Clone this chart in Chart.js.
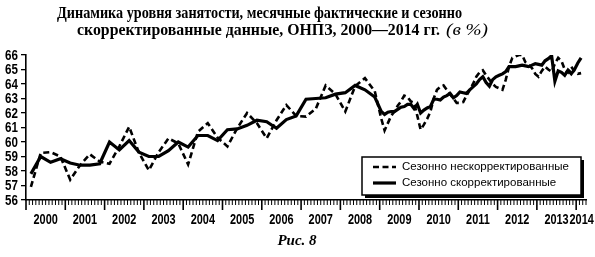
<!DOCTYPE html>
<html>
<head>
<meta charset="utf-8">
<script src="https://cdn.jsdelivr.net/npm/chart.js@4.4.1/dist/chart.umd.min.js"></script>
<style>
  html, body { margin: 0; padding: 0; background: #fff; }
  #wrap { width: 595px; height: 257px; }
</style>
</head>
<body>
<div id="wrap"><canvas id="employmentChart" width="595" height="257"></canvas></div>
<script>
// year labels under the x axis
const yearLabels = ["2000", "2001", "2002", "2003", "2004", "2005", "2006", "2007",
                    "2008", "2009", "2010", "2011", "2012", "2013", "2014"];

// 2000-2008: survey months (Feb, May, Aug, Nov), from 2009 monthly
const quarterYears = [2000, 2001, 2002, 2003, 2004, 2005, 2006, 2007, 2008];
const quarterMonths = [2, 5, 8, 11];
const monthlyFrom = 2009;

const nsaQuarterly = [
  56.9, 59.25, 59.3, 59.0,
  57.4, 58.4, 59.15, 58.65,
  58.5, 59.7, 61.05, 59.25,
  58.05, 59.3, 60.25, 59.9,
  58.45, 60.7, 61.3, 60.3,
  59.7, 60.95, 62.0, 61.3,
  60.25, 61.5, 62.55, 61.8,
  61.75, 62.3, 63.9, 63.3,
  62.1, 63.85, 64.4, 63.5
];
const saQuarterly = [
  57.8, 59.0, 58.6, 58.85,
  58.55, 58.4, 58.4, 58.5,
  60.0, 59.45, 60.1, 59.3,
  59.0, 59.0, 59.4, 60.0,
  59.65, 60.45, 60.45, 60.1,
  60.85, 60.9, 61.15, 61.5,
  61.4, 60.95, 61.55, 61.8,
  62.95, 63.0, 63.05, 63.3,
  63.4, 63.9, 63.6, 63.1
];
const nsaMonthly = [
  61.6, 60.8, 61.3, 61.8, 62.1, 62.5, 62.8, 63.2, 63.1, 62.8, 62.7, 61.8,
  60.85, 61.2, 61.6, 62.1, 63.0, 63.6, 63.8, 63.9, 63.6, 63.3, 63.0, 62.7,
  62.7, 62.75, 63.2, 63.6, 64.0, 64.5, 64.8, 64.95, 64.6, 64.3, 64.0, 63.8,
  63.7, 63.6, 64.3, 65.2, 65.8, 65.9, 66.0, 66.0, 65.5, 65.3, 65.1, 64.7,
  64.5, 64.9, 65.2, 65.0, 64.85, 65.4, 65.8, 65.6, 65.0, 64.8, 65.2, 64.85,
  64.7, 64.75
];
const saMonthly = [
  62.1, 61.9, 62.05, 62.1, 62.1, 62.25, 62.4, 62.45, 62.6, 62.6, 62.3, 62.6,
  62.0, 62.2, 62.35, 62.45, 62.95, 62.95, 62.9, 63.1, 63.2, 63.35, 63.05, 63.2,
  63.45, 63.4, 63.35, 63.6, 63.8, 64.0, 64.3, 64.5, 64.1, 63.85, 64.3, 64.5,
  64.6, 64.7, 64.85, 65.2, 65.2, 65.2, 65.25, 65.3, 65.25, 65.2, 65.3, 65.4,
  65.35, 65.3, 65.6, 65.75, 65.95, 64.2, 64.9, 64.8, 64.6, 64.95, 64.7, 65.0,
  65.45, 65.8
];

const seriesLabels = ["Сезонно нескорректированные", "Сезонно скорректированные"];

function monthX(year, month) {
  return year + (month - 0.5) / 12;
}

const dates = [];
quarterYears.forEach(y => quarterMonths.forEach(m => dates.push(monthX(y, m))));
for (let i = 0; i < nsaMonthly.length; i++) {
  dates.push(monthX(monthlyFrom + Math.floor(i / 12), (i % 12) + 1));
}
const toPoints = vals => vals.map((v, i) => ({ x: dates[i], y: v }));

// draw text squeezed horizontally (narrow bold look of the original)
function narrowText(ctx, text, x, y, squeeze, align) {
  const w = ctx.measureText(text).width * squeeze;
  const x0 = align === "right" ? x - w : align === "center" ? x - w / 2 : x;
  ctx.save();
  ctx.translate(x0, y);
  ctx.scale(squeeze, 1);
  ctx.textAlign = "left";
  ctx.fillText(text, 0, 0);
  ctx.restore();
}

// small tick marks under the x axis (months and years) and the axis labels
const axisExtras = {
  id: "axisExtras",
  afterDraw(chart) {
    const sx = chart.scales.x;
    const sy = chart.scales.y;
    const ctx = chart.ctx;
    const area = chart.chartArea;
    ctx.save();
    ctx.strokeStyle = "#000";
    for (let k = 0; ; k++) {
      const v = sx.min + k / 12;
      if (v > sx.max + 1e-6) break;
      const px = sx.getPixelForValue(v);
      const major = k % 12 === 0;
      ctx.lineWidth = major ? 1.6 : 1;
      ctx.beginPath();
      ctx.moveTo(px, area.bottom);
      ctx.lineTo(px, area.bottom + (major ? 10 : 5));
      ctx.stroke();
    }
    ctx.fillStyle = "#000";
    ctx.textBaseline = "middle";
    ctx.font = 'bold 14px "Liberation Sans", Arial, sans-serif';
    sx.ticks.forEach((t, i) => {
      narrowText(ctx, yearLabels[i], sx.getPixelForValue(t.value), area.bottom + 20, 0.78, "center");
    });
    ctx.font = 'bold 14.5px "Liberation Sans", Arial, sans-serif';
    sy.ticks.forEach(t => {
      narrowText(ctx, String(t.value), area.left - 8, sy.getPixelForValue(t.value) + 0.5, 0.8, "right");
    });
    ctx.restore();
  }
};

// framed legend with a shadow, sitting inside the plot
const boxLegend = {
  id: "boxLegend",
  afterDraw(chart) {
    const ctx = chart.ctx;
    const left = 362, top = 157, w = 219, h = 38;
    ctx.save();
    ctx.fillStyle = "#000";
    ctx.fillRect(left + 3, top + 3, w, h);
    ctx.fillStyle = "#fff";
    ctx.fillRect(left, top, w, h);
    ctx.lineWidth = 1.5;
    ctx.strokeStyle = "#000";
    ctx.strokeRect(left, top, w, h);
    chart.data.datasets.forEach((ds, i) => {
      const cy = top + 10 + i * 16;
      ctx.lineWidth = ds.borderWidth;
      ctx.setLineDash(ds.borderDash || []);
      ctx.beginPath();
      ctx.moveTo(left + 11, cy);
      ctx.lineTo(left + 34, cy);
      ctx.stroke();
      ctx.setLineDash([]);
      ctx.fillStyle = "#000";
      ctx.font = '11.5px "Liberation Sans", Arial, sans-serif';
      ctx.textBaseline = "middle";
      ctx.fillText(ds.label, left + 40, cy);
    });
    ctx.restore();
  }
};

function fitText(ctx, text, x, y, width) {
  const m = ctx.measureText(text).width;
  ctx.save();
  ctx.translate(x, y);
  ctx.scale(width / m, 1);
  ctx.fillText(text, 0, 0);
  ctx.restore();
}

const headings = {
  id: "headings",
  afterDraw(chart) {
    const ctx = chart.ctx;
    ctx.save();
    ctx.fillStyle = "#000";
    ctx.textBaseline = "middle";
    ctx.textAlign = "left";
    ctx.font = 'bold 17px "Liberation Serif", serif';
    fitText(ctx, "Динамика уровня занятости, месячные фактические и сезонно", 57, 14, 405);
    fitText(ctx, "скорректированные данные, ОНПЗ, 2000—2014 гг.", 77, 31, 363);
    ctx.font = 'italic 16px "Liberation Serif", serif';
    fitText(ctx, "(в %)", 446, 31, 42);
    ctx.font = 'bold italic 15px "Liberation Serif", serif';
    ctx.textAlign = "center";
    ctx.fillText("Рис. 8", 297, 241);
    ctx.restore();
  }
};

const ctx = document.getElementById("employmentChart").getContext("2d");
const employmentChart = new Chart(ctx, {
  type: "line",
  data: {
    datasets: [
      {
        label: seriesLabels[0],
        data: toPoints(nsaQuarterly.concat(nsaMonthly)),
        borderColor: "#000",
        borderWidth: 2.6,
        borderDash: [6, 3.5],
        pointRadius: 0,
        tension: 0,
        fill: false
      },
      {
        label: seriesLabels[1],
        data: toPoints(saQuarterly.concat(saMonthly)),
        borderColor: "#000",
        borderWidth: 3.2,
        pointRadius: 0,
        tension: 0,
        fill: false
      }
    ]
  },
  options: {
    responsive: false,
    devicePixelRatio: 1,
    animation: false,
    layout: { padding: { top: 55, right: 9, left: 0, bottom: 0 } },
    plugins: {
      legend: { display: false },
      title: { display: false },
      tooltip: { enabled: false }
    },
    scales: {
      x: {
        type: "linear",
        min: 2000,
        max: 2014.25,
        afterFit: s => { s.height = 57; },
        afterBuildTicks: s => {
          s.ticks = yearLabels.map((lab, i) =>
            ({ value: i < yearLabels.length - 1 ? 2000.5 + i : 2014.14 }));
        },
        grid: { display: false, drawTicks: false },
        border: { display: true, color: "#000", width: 1.6 },
        ticks: { display: false, autoSkip: false }
      },
      y: {
        min: 56,
        max: 66,
        afterFit: s => { s.width = 26; },
        grid: { display: true, drawOnChartArea: false, drawTicks: true, tickLength: 5, color: "#000", lineWidth: 1.3 },
        border: { display: true, color: "#000", width: 1.6 },
        ticks: { display: false, stepSize: 1, autoSkip: false }
      }
    }
  },
  plugins: [axisExtras, boxLegend, headings]
});
</script>
</body>
</html>
